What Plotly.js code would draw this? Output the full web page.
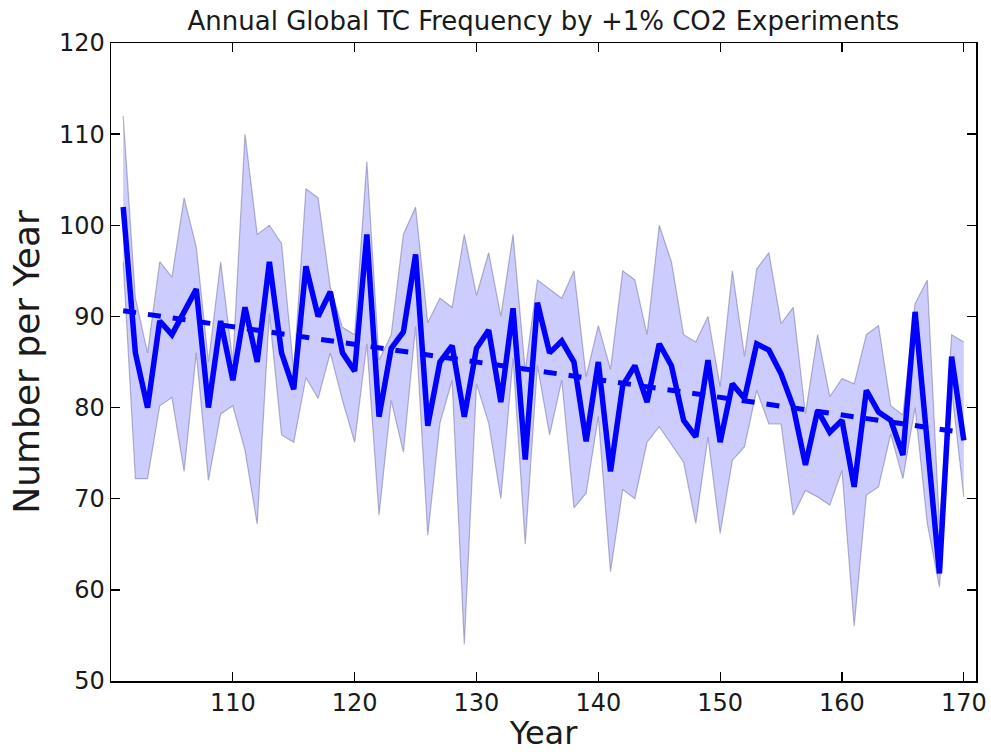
<!DOCTYPE html>
<html>
<head>
<meta charset="utf-8">
<script src="https://cdn.plot.ly/plotly-3.0.1.min.js"></script>
<style>
  html, body { margin: 0; padding: 0; background: #ffffff; }
  #chart { width: 991px; height: 752px; }
</style>
</head>
<body>
<div id="chart"></div>
<script>
// ---- Data ----
const years = [101,102,103,104,105,106,107,108,109,110,
               111,112,113,114,115,116,117,118,119,120,
               121,122,123,124,125,126,127,128,129,130,
               131,132,133,134,135,136,137,138,139,140,
               141,142,143,144,145,146,147,148,149,150,
               151,152,153,154,155,156,157,158,159,160,
               161,162,163,164,165,166,167,168,169,170];

// ensemble mean (thick solid line)
const meanVals = [102,86,80,89.5,88,90.5,93,80,89.5,83,
                  91,85,96,86,82,95.5,90,92.7,86,84,
                  99,79,86.5,88.3,96.8,78,85,86.8,79,86.5,
                  88.5,80.6,90.9,74.3,91.5,86,87.3,85,76.3,85,
                  73,82.4,84.6,80.6,87,84.6,78.6,76.8,85.2,76.2,
                  82.6,81,87,86.3,83.7,80.1,73.7,79.7,77.3,78.6,
                  71.3,81.9,79.5,78.6,74.8,90.5,76,61.8,85.6,76.4];

// ensemble maximum (upper edge of the shaded band)
const maxVals = [112,92,86,96,94.3,103,97.6,85,96,85,
                 110,99,100,98,84,104,103,93.2,88.8,88,
                 107,85.2,88,99,102,89.3,92,91,99,92.3,
                 97,90,99,84,94,93,92,95,83.4,89,
                 84.2,95,94,88,100,96,88,87.2,90,82.3,
                 95,85.6,95.2,97,89.2,91,79.3,88,81.2,83.2,
                 82.6,88,89,80.2,79.2,91.4,94,67,88,87.2];

// ensemble minimum (lower edge of the shaded band)
const minVals = [96,72.2,72.2,80.2,81.1,73,86,72,79.3,80.2,
                 75.3,67.2,90.3,77,76.2,83.3,81,86,80.8,76.2,
                 87,68.2,80.8,75.1,88.9,66,78.3,83,54,82.6,
                 78.3,70,85.4,65,84.6,77,83,69,70.6,79,
                 62,71,70,76.2,77.9,75.9,74,67.3,76.8,66.2,
                 74.2,75.7,81.9,78.2,78.2,68.2,70.9,70.2,69.3,73.1,
                 56,70.4,71.3,77.1,72.2,80,67.3,60.3,82,70.2];

const xTickVals = [110,120,130,140,150,160,170];
const yTickVals = [50,60,70,80,90,100,110,120];

// ---- Linear trend of the mean (least squares) ----
const n = years.length;
let sx = 0, sy = 0, sxx = 0, sxy = 0;
for (let i = 0; i < n; i++) {
  sx += years[i]; sy += meanVals[i];
  sxx += years[i] * years[i]; sxy += years[i] * meanVals[i];
}
const slope = (n * sxy - sx * sy) / (n * sxx - sx * sx);
const icpt = (sy - slope * sx) / n;
const trendVals = years.map(function (y) { return icpt + slope * y; });

const FONT = 'DejaVu Sans, sans-serif';
const edge = 'rgba(70,70,120,0.38)';

const traces = [
  { x: years, y: minVals, type: 'scatter', mode: 'lines',
    line: { color: edge, width: 1.2 }, hoverinfo: 'skip', showlegend: false },
  { x: years, y: maxVals, type: 'scatter', mode: 'lines', fill: 'tonexty',
    fillcolor: 'rgba(0,0,255,0.2)',
    line: { color: edge, width: 1.2 }, hoverinfo: 'skip', showlegend: false },
  { x: years, y: trendVals, type: 'scatter', mode: 'lines',
    line: { color: '#0000ff', width: 5, dash: '13px,12px' }, showlegend: false },
  { x: years, y: meanVals, type: 'scatter', mode: 'lines',
    line: { color: '#0000ff', width: 5.5 }, showlegend: false }
];

const axisCommon = {
  showgrid: false, zeroline: false,
  showline: true, linecolor: '#000000', linewidth: 1.5, mirror: 'ticks',
  ticks: 'inside', ticklen: 9, tickwidth: 1.3, tickcolor: '#000000',
  tickfont: { family: FONT, size: 24, color: '#1a1a1a' }
};

const layout = Object.assign({
  width: 991, height: 752,
  margin: { l: 111, r: 15, t: 43, b: 71 },
  paper_bgcolor: '#ffffff', plot_bgcolor: '#ffffff',
  title: { text: 'Annual Global TC Frequency by +1% CO2 Experiments',
           font: { family: FONT, size: 26, color: '#1a1a1a' },
           x: 0.5, xref: 'paper', xanchor: 'center',
           y: 1 - 21 / 752, yref: 'container', yanchor: 'middle' },
  xaxis: Object.assign({}, axisCommon, {
    range: [100, 171], tickmode: 'array', tickvals: xTickVals,
    title: { text: 'Year', font: { family: FONT, size: 32, color: '#1a1a1a' }, standoff: 2 }
  }),
  yaxis: Object.assign({}, axisCommon, {
    range: [50, 120], tickmode: 'array', tickvals: yTickVals,
    title: { text: 'Number per Year', font: { family: FONT, size: 36, color: '#1a1a1a' }, standoff: 8 }
  }),
  showlegend: false
});

Plotly.newPlot('chart', traces, layout, { displayModeBar: false, staticPlot: true });
</script>
</body>
</html>
